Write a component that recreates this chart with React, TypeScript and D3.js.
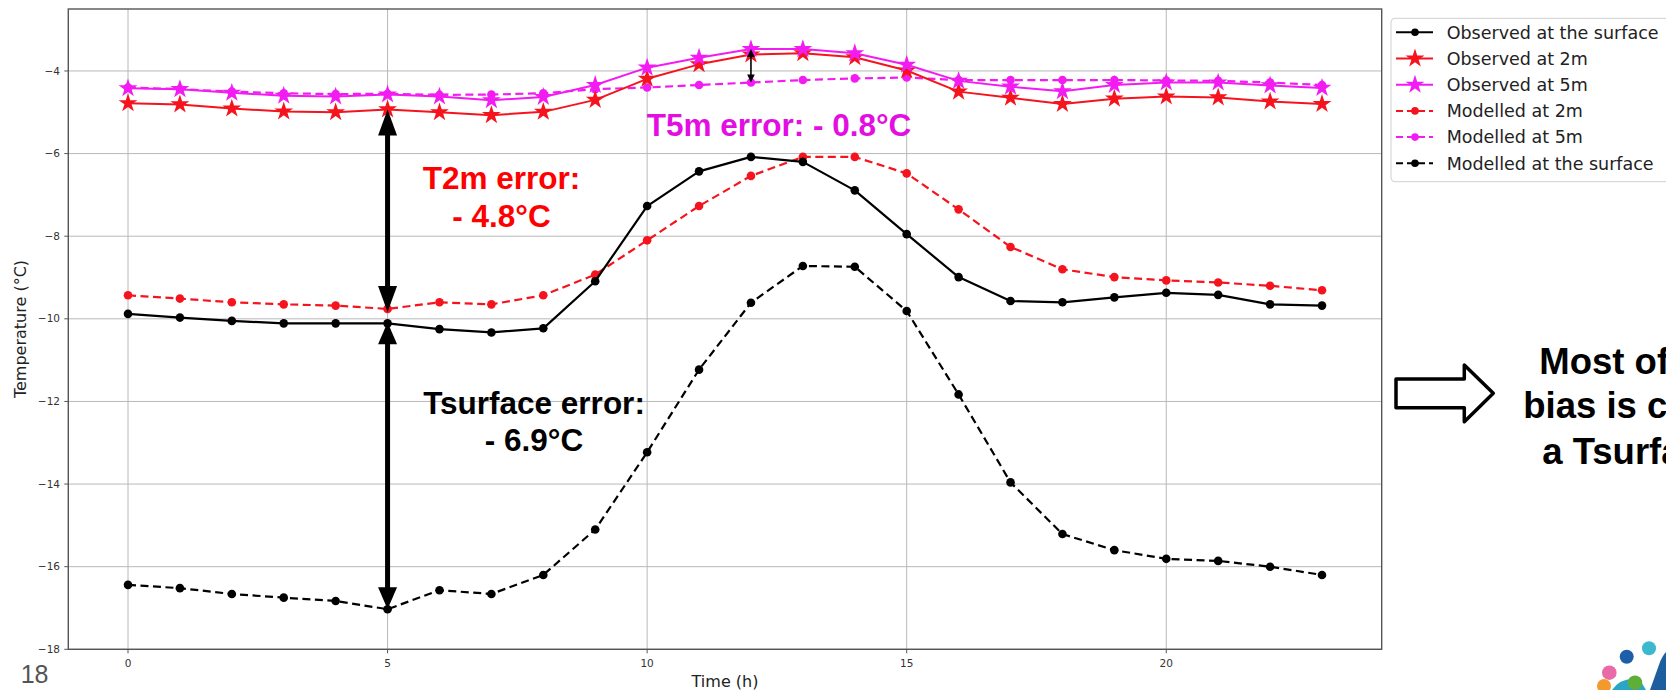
import React from "react";
import * as d3 from "d3";

const hours = d3.range(0, 24);
const obsSurface = [-9.88, -9.97, -10.05, -10.11, -10.11, -10.11, -10.25, -10.33, -10.23, -9.09, -7.27, -6.43, -6.08, -6.2, -6.89, -7.95, -8.99, -9.57, -9.6, -9.48, -9.37, -9.42, -9.65, -9.68];
const obs2m = [-4.78, -4.81, -4.91, -4.98, -5.0, -4.93, -5.0, -5.07, -4.99, -4.7, -4.19, -3.84, -3.6, -3.57, -3.67, -3.99, -4.5, -4.65, -4.8, -4.67, -4.62, -4.64, -4.74, -4.8];
const obs5m = [-4.42, -4.44, -4.53, -4.6, -4.62, -4.57, -4.62, -4.71, -4.63, -4.34, -3.92, -3.68, -3.47, -3.47, -3.57, -3.85, -4.24, -4.38, -4.49, -4.34, -4.28, -4.28, -4.35, -4.41];
const mod2m = [-9.43, -9.51, -9.6, -9.65, -9.68, -9.76, -9.6, -9.65, -9.43, -8.93, -8.1, -7.27, -6.54, -6.08, -6.08, -6.48, -7.35, -8.26, -8.8, -8.99, -9.07, -9.12, -9.2, -9.31];
const mod5m = [-4.4, -4.44, -4.5, -4.54, -4.56, -4.55, -4.58, -4.57, -4.54, -4.44, -4.4, -4.34, -4.28, -4.22, -4.18, -4.16, -4.22, -4.22, -4.22, -4.22, -4.23, -4.24, -4.28, -4.34];
const modSurface = [-16.44, -16.52, -16.66, -16.75, -16.83, -17.03, -16.57, -16.66, -16.2, -15.1, -13.23, -11.23, -9.61, -8.72, -8.74, -9.81, -11.83, -13.96, -15.21, -15.6, -15.81, -15.86, -16.0, -16.2];

const yTicks = [-18, -16, -14, -12, -10, -8, -6, -4];
const xTicks = [0, 5, 10, 15, 20];

const RED = "#f5141e";
const MAG = "#f21cf2";
const ANN_MAG = "#e20ee2";

type Series = { name: string; values: number[]; color: string; dash?: string; marker: "circle" | "star"; width: number };

const series: Series[] = [
  { name: "Observed at the surface", values: obsSurface, color: "#000000", marker: "circle", width: 2.2 },
  { name: "Observed at 2m", values: obs2m, color: RED, marker: "star", width: 2 },
  { name: "Observed at 5m", values: obs5m, color: MAG, marker: "star", width: 2 },
  { name: "Modelled at 2m", values: mod2m, color: RED, dash: "8,4.5", marker: "circle", width: 2.2 },
  { name: "Modelled at 5m", values: mod5m, color: MAG, dash: "8,4.5", marker: "circle", width: 2.2 },
  { name: "Modelled at the surface", values: modSurface, color: "#000000", dash: "8,4.5", marker: "circle", width: 2.2 },
];

const drawOrder = [5, 3, 4, 0, 1, 2];

const x = d3.scaleLinear().domain([-1.15, 24.15]).range([68.3, 1381.7]);
const y = d3.scaleLinear().domain([-18, -2.5]).range([649.3, 9]);

const starPath = (size: number) => d3.symbol().type(d3.symbolStar).size(size)() as string;

function DoubleArrow({ x0, y0, y1, shaft, headLen, headHalf }: { x0: number; y0: number; y1: number; shaft: number; headLen: number; headHalf: number }) {
  return (
    <g>
      <line x1={x0} x2={x0} y1={y0 + headLen - 1} y2={y1 - headLen + 1} stroke="#000" strokeWidth={shaft} />
      <path d={`M${x0},${y0} L${x0 - headHalf},${y0 + headLen} L${x0 + headHalf},${y0 + headLen} Z`} fill="#000" />
      <path d={`M${x0},${y1} L${x0 - headHalf},${y1 - headLen} L${x0 + headHalf},${y1 - headLen} Z`} fill="#000" />
    </g>
  );
}

export default function App() {
  const line = (vals: number[]) =>
    d3.line<number>().x((_, i) => x(hours[i])).y((v) => y(v))(vals) as string;
  const star = starPath(110);
  const legendStar = starPath(110);
  const tickFont = "DejaVu Sans, sans-serif";
  const boldFont = "Liberation Sans, Arial, sans-serif";

  return (
    <svg width={1666} height={690} style={{ position: "absolute", left: 0, top: 0, background: "#fff" }}>
      <rect x={0} y={0} width={1666} height={690} fill="#fff" />
      <g>
        {yTicks.map((t) => (
          <line key={"gy" + t} x1={68.3} x2={1381.7} y1={y(t)} y2={y(t)} stroke="#b8b8b8" strokeWidth={1} />
        ))}
        {xTicks.map((t) => (
          <line key={"gx" + t} x1={x(t)} x2={x(t)} y1={9} y2={649.3} stroke="#b8b8b8" strokeWidth={1} />
        ))}
      </g>
      {drawOrder.map((k) => {
        const s = series[k];
        return (
          <g key={s.name}>
            <path d={line(s.values)} fill="none" stroke={s.color} strokeWidth={s.width} strokeDasharray={s.dash} strokeLinejoin="round" />
            {s.values.map((v, i) =>
              s.marker === "circle" ? (
                <circle key={i} cx={x(hours[i])} cy={y(v)} r={4.3} fill={s.color} />
              ) : (
                <path key={i} d={star} transform={`translate(${x(hours[i])},${y(v)})`} fill={s.color} />
              )
            )}
          </g>
        );
      })}
      <DoubleArrow x0={x(5)} y0={y(obs2m[5])} y1={y(mod2m[5]) + 3} shaft={5} headLen={26} headHalf={9.5} />
      <DoubleArrow x0={x(5)} y0={y(obsSurface[5]) - 1} y1={y(modSurface[5])} shaft={5} headLen={22} headHalf={9.5} />
      <DoubleArrow x0={x(12)} y0={y(obs5m[12])} y1={y(mod5m[12])} shaft={1.6} headLen={8} headHalf={3.8} />
      <rect x={68.3} y={9} width={1381.7 - 68.3} height={649.3 - 9} fill="none" stroke="#555" strokeWidth={1.4} />
      {yTicks.map((t) => (
        <g key={"ty" + t}>
          <line x1={64.3} x2={68.3} y1={y(t)} y2={y(t)} stroke="#555" strokeWidth={1} />
          <text x={60} y={y(t)} dy="0.35em" textAnchor="end" fontFamily={tickFont} fontSize={10.5} fill="#333">
            {"\u2212" + Math.abs(t)}
          </text>
        </g>
      ))}
      {xTicks.map((t) => (
        <g key={"tx" + t}>
          <line x1={x(t)} x2={x(t)} y1={649.3} y2={653.3} stroke="#555" strokeWidth={1} />
          <text x={x(t)} y={663} dy="0.35em" textAnchor="middle" fontFamily={tickFont} fontSize={10.5} fill="#333">
            {t}
          </text>
        </g>
      ))}
      <text x={725} y={686.5} textAnchor="middle" fontFamily={tickFont} fontSize={16} fill="#222">
        Time (h)
      </text>
      <text transform="translate(26,329) rotate(-90)" textAnchor="middle" fontFamily={tickFont} fontSize={16} fill="#222">
        Temperature (°C)
      </text>
      <text x={501.5} y={189.3} textAnchor="middle" fontFamily={boldFont} fontWeight="bold" fontSize={31.5} fill="#ff0000">
        T2m error:
      </text>
      <text x={501.5} y={226.7} textAnchor="middle" fontFamily={boldFont} fontWeight="bold" fontSize={31.5} fill="#ff0000">
        - 4.8°C
      </text>
      <text x={534} y={414} textAnchor="middle" fontFamily={boldFont} fontWeight="bold" fontSize={31.5} fill="#000">
        Tsurface error:
      </text>
      <text x={534} y={450.7} textAnchor="middle" fontFamily={boldFont} fontWeight="bold" fontSize={31.5} fill="#000">
        - 6.9°C
      </text>
      <text x={646.7} y={136} fontFamily={boldFont} fontWeight="bold" fontSize={31.5} fill={ANN_MAG}>
        T5m error: - 0.8°C
      </text>
      <rect x={1391} y={18.3} width={300} height={163.4} rx={4} fill="#fff" stroke="#d0d0d0" strokeWidth={1} />
      {series.map((s, i) => {
        const cy = 32.3 + i * 26.2;
        return (
          <g key={"lg" + i}>
            <line x1={1396} x2={1433} y1={cy} y2={cy} stroke={s.color} strokeWidth={2} strokeDasharray={s.dash ? "7,4" : undefined} />
            {s.marker === "circle" ? (
              <circle cx={1415} cy={cy} r={3.8} fill={s.color} />
            ) : (
              <path d={legendStar} transform={`translate(1415,${cy})`} fill={s.color} />
            )}
            <text x={1446.7} y={cy} dy="0.36em" fontFamily={tickFont} fontSize={17.5} fill="#222">
              {s.name}
            </text>
          </g>
        );
      })}
      <path
        d="M1396,379 L1464.3,379 L1464.3,365 L1493.3,393.3 L1464.3,421.7 L1464.3,407.7 L1396,407.7 Z"
        fill="#fff"
        stroke="#000"
        strokeWidth={3.5}
        strokeLinejoin="round"
      />
      <text x={1539.3} y={374} fontFamily={boldFont} fontWeight="bold" fontSize={36.5} fill="#000">
        Most of the T2m
      </text>
      <text x={1523.3} y={418.3} fontFamily={boldFont} fontWeight="bold" fontSize={36.5} fill="#000">
        bias is caused by
      </text>
      <text x={1542.3} y={464} fontFamily={boldFont} fontWeight="bold" fontSize={36.5} fill="#000">
        a Tsurface bias
      </text>
      <text x={20.7} y={683.3} fontFamily="Liberation Sans, Arial, sans-serif" fontSize={25} fill="#555">
        18
      </text>
      <g>
        <path d="M1650,690 L1660,662 Q1663,655 1666,652 L1666,690 Z" fill="#1d5f9e" />
        <path d="M1612,690 Q1622,676 1640,680 L1646,690 Z" fill="#2aa6c4" />
        <circle cx={1649} cy={648.3} r={7} fill="#3cb8cf" />
        <circle cx={1626.7} cy={656.7} r={7} fill="#1c5fa8" />
        <circle cx={1609.3} cy={672.7} r={7.3} fill="#e86aa6" />
        <circle cx={1604} cy={686} r={7} fill="#f39a2c" />
        <circle cx={1635} cy={682.7} r={7.3} fill="#5fae3a" />
      </g>
    </svg>
  );
}
